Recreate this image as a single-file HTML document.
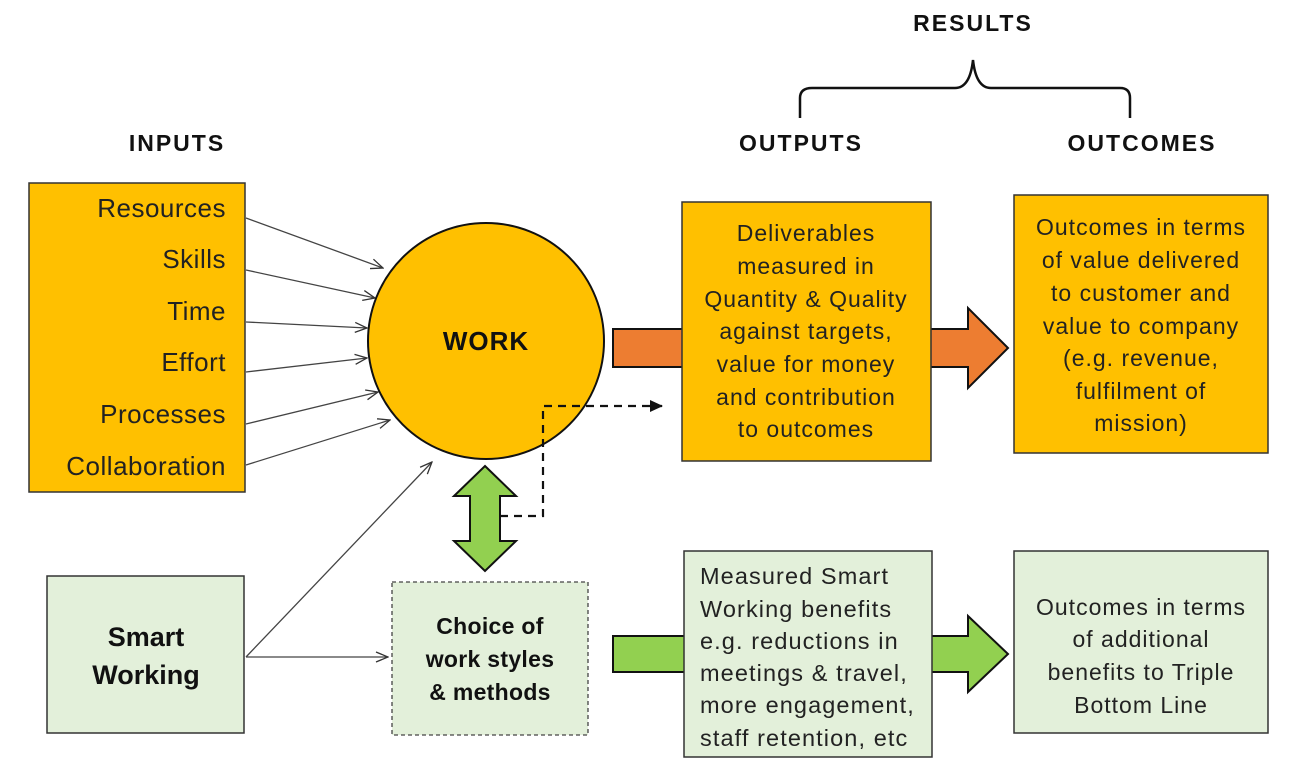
<!DOCTYPE html>
<html><head><style>
html,body{margin:0;padding:0;background:#fff;}
svg{display:block;font-family:"Liberation Sans","DejaVu Sans",sans-serif;}
</style></head><body>
<svg width="1294" height="768" viewBox="0 0 1294 768" xmlns="http://www.w3.org/2000/svg">
<defs>
<marker id="oa" markerWidth="14" markerHeight="12" refX="13" refY="6" orient="auto" markerUnits="userSpaceOnUse">
<path d="M1,1 L13,6 L1,11" fill="none" stroke="#333" stroke-width="1.3"/></marker>
<marker id="fa" markerWidth="14" markerHeight="12" refX="12" refY="6" orient="auto" markerUnits="userSpaceOnUse">
<path d="M0,0 L13,6 L0,12 Z" fill="#111"/></marker>
</defs>
<g font-weight="bold" font-size="23" fill="#111" text-anchor="middle" letter-spacing="2">
<text x="973" y="31">RESULTS</text>
<text x="177" y="151">INPUTS</text>
<text x="801" y="151">OUTPUTS</text>
<text x="1142" y="151">OUTCOMES</text>
</g>
<path d="M800,118 V98 Q800,88 812,88 H955 Q970,88 973,60 Q976,88 991,88 H1120 Q1130,88 1130,98 V118" fill="none" stroke="#111" stroke-width="2.5"/>
<rect x="29" y="183" width="216" height="309" fill="#FFC000" stroke="#333" stroke-width="1.5"/>
<g font-size="26" fill="#222" text-anchor="end" letter-spacing="0.5">
<text x="226" y="217">Resources</text>
<text x="226" y="268">Skills</text>
<text x="226" y="320">Time</text>
<text x="226" y="371">Effort</text>
<text x="226" y="423">Processes</text>
<text x="226" y="475">Collaboration</text>
</g>
<g stroke="#444" stroke-width="1.3" marker-end="url(#oa)">
<line x1="246" y1="218" x2="383" y2="268"/>
<line x1="246" y1="270" x2="375" y2="298"/>
<line x1="246" y1="322" x2="367" y2="328"/>
<line x1="246" y1="372" x2="367" y2="358"/>
<line x1="246" y1="424" x2="378" y2="392"/>
<line x1="246" y1="465" x2="390" y2="420"/>
<line x1="246" y1="657" x2="432" y2="462"/>
<line x1="246" y1="657" x2="388" y2="657"/>
</g>
<circle cx="486" cy="341" r="118" fill="#FFC000" stroke="#111" stroke-width="2"/>
<text x="486" y="350" font-size="26" font-weight="bold" text-anchor="middle" fill="#111" letter-spacing="1">WORK</text>
<rect x="47" y="576" width="197" height="157" fill="#E3F0DA" stroke="#333" stroke-width="1.5"/>
<g font-size="27" font-weight="bold" text-anchor="middle" fill="#111">
<text x="146" y="646">Smart</text>
<text x="146" y="684">Working</text>
</g>
<rect x="392" y="582" width="196" height="153" fill="#E3F0DA" stroke="#444" stroke-width="1.3" stroke-dasharray="4,3"/>
<g font-size="23" font-weight="bold" text-anchor="middle" fill="#111" letter-spacing="0.3">
<text x="490" y="634">Choice of</text>
<text x="490" y="667">work styles</text>
<text x="490" y="700">&amp; methods</text>
</g>
<path d="M485,466 L516,496 L500,496 L500,541 L516,541 L485,571 L454,541 L470,541 L470,496 L454,496 Z" fill="#92D050" stroke="#111" stroke-width="2"/>
<path d="M500,516 H543 V406 H662" fill="none" stroke="#111" stroke-width="2.2" stroke-dasharray="8,6" marker-end="url(#fa)"/>
<rect x="613" y="329" width="72" height="38" fill="#ED7D31" stroke="#111" stroke-width="2"/>
<path d="M928,329 H968 V308 L1008,348 L968,388 V367 H928 Z" fill="#ED7D31" stroke="#111" stroke-width="2"/>
<rect x="682" y="202" width="249" height="259" fill="#FFC000" stroke="#333" stroke-width="1.5"/>
<g font-size="23" text-anchor="middle" fill="#222" letter-spacing="1">
<text x="806" y="241">Deliverables</text>
<text x="806" y="274">measured in</text>
<text x="806" y="307">Quantity &amp; Quality</text>
<text x="806" y="339">against targets,</text>
<text x="806" y="372">value for money</text>
<text x="806" y="405">and contribution</text>
<text x="806" y="437">to outcomes</text>
</g>
<rect x="1014" y="195" width="254" height="258" fill="#FFC000" stroke="#333" stroke-width="1.5"/>
<g font-size="23" text-anchor="middle" fill="#222" letter-spacing="1">
<text x="1141" y="235">Outcomes in terms</text>
<text x="1141" y="268">of value delivered</text>
<text x="1141" y="301">to customer and</text>
<text x="1141" y="334">value to company</text>
<text x="1141" y="366">(e.g. revenue,</text>
<text x="1141" y="399">fulfilment of</text>
<text x="1141" y="431">mission)</text>
</g>
<rect x="613" y="636" width="74" height="36" fill="#92D050" stroke="#111" stroke-width="2"/>
<path d="M928,636 H968 V616 L1008,654 L968,692 V672 H928 Z" fill="#92D050" stroke="#111" stroke-width="2"/>
<rect x="684" y="551" width="248" height="206" fill="#E3F0DA" stroke="#333" stroke-width="1.5"/>
<g font-size="23.5" fill="#222" letter-spacing="1.1">
<text x="700" y="584">Measured Smart</text>
<text x="700" y="617">Working benefits</text>
<text x="700" y="649">e.g. reductions in</text>
<text x="700" y="681">meetings &amp; travel,</text>
<text x="700" y="713">more engagement,</text>
<text x="700" y="746">staff retention, etc</text>
</g>
<rect x="1014" y="551" width="254" height="182" fill="#E3F0DA" stroke="#333" stroke-width="1.5"/>
<g font-size="23" text-anchor="middle" fill="#222" letter-spacing="1">
<text x="1141" y="615">Outcomes in terms</text>
<text x="1141" y="647">of additional</text>
<text x="1141" y="680">benefits to Triple</text>
<text x="1141" y="713">Bottom Line</text>
</g>
</svg>
</body></html>
